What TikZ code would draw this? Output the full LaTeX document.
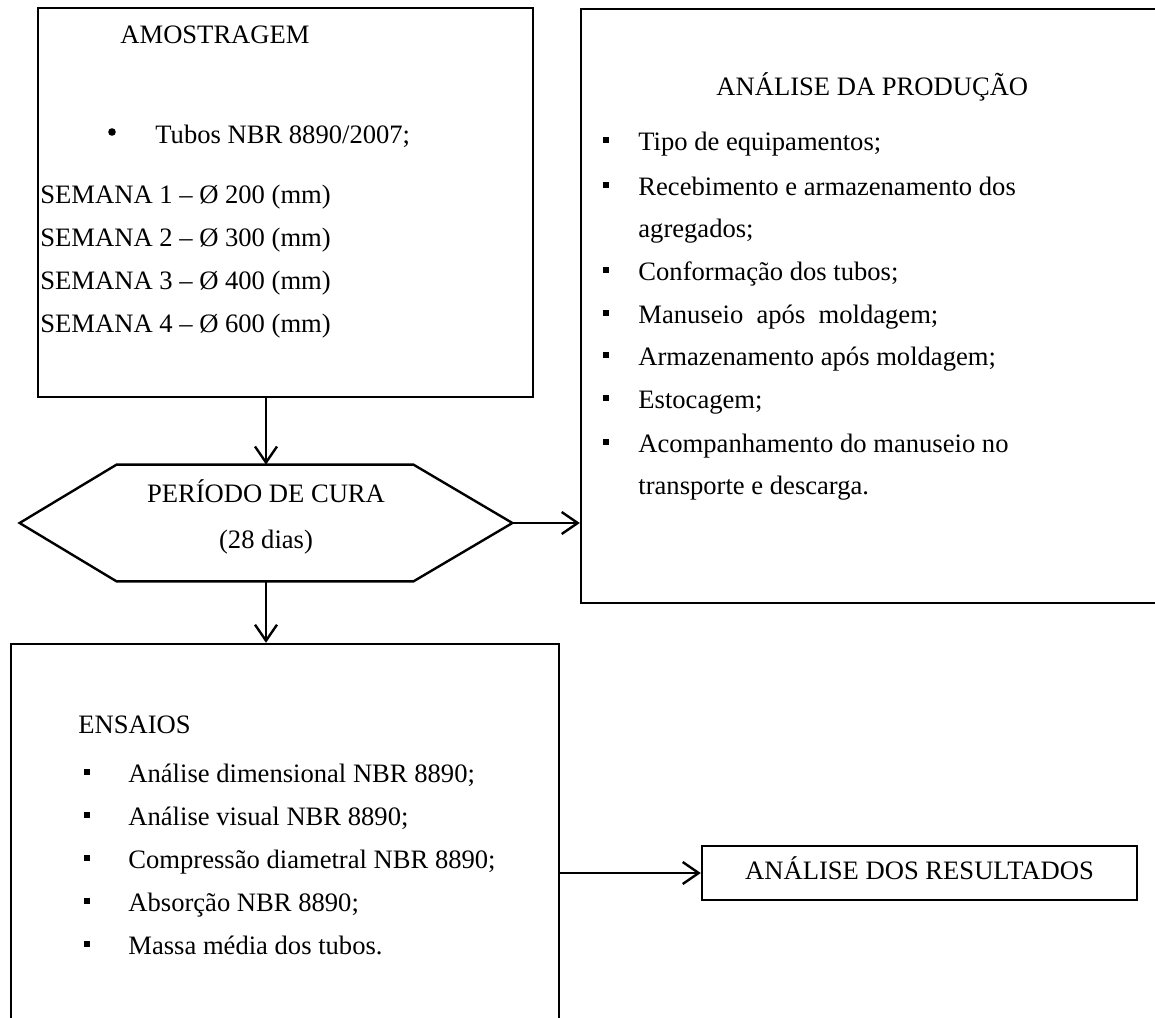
\documentclass[tikz,border=0pt]{standalone}
\usepackage{fontspec}
\setmainfont{Liberation Serif}
\usetikzlibrary{arrows.meta}
\begin{document}
\begin{tikzpicture}[x=0.5pt,y=-0.5pt,
  caixa/.style={draw, line width=1.2pt, inner sep=0pt},
  linha/.style={line width=1.2pt, line join=miter},
  seta/.style={line width=1.2pt, -{Straight Barb[length=8pt,width=11pt]}},
  texto/.style={anchor=base west, inner sep=0pt, font=\fontsize{13.3}{16}\selectfont},
  marca/.style={fill, inner sep=0pt, minimum size=3.4pt},
]
\useasboundingbox (0,0) rectangle (1155,1017);
\clip (0,0) rectangle (1155,1017);
% Caixas
\node[caixa, minimum width=247.5pt, minimum height=194.5pt] (amostra) at (285.5,202.5) {};
\node[caixa, minimum width=294.5pt, minimum height=297pt] (producao) at (875.5,306) {};
\node[inner sep=0pt, minimum width=246pt, minimum height=58pt] (cura) at (266,523) {};
\node[caixa, minimum width=274pt, minimum height=198pt] (ensaios) at (285,842) {};
\node[caixa, minimum width=217.5pt, minimum height=27pt] (resultados) at (919.5,873) {};
% Hexagono
\draw[linha] (cura.west) -- ([xshift=48.5pt]cura.north west) -- ([xshift=-49.5pt]cura.north east)
  -- (cura.east) -- ([xshift=-49.5pt]cura.south east) -- ([xshift=48.5pt]cura.south west) -- cycle;
% Amostragem
\node[texto] (amostra-tit) at (120,43) {AMOSTRAGEM};
\node[circle, fill, inner sep=0pt, minimum size=3.8pt] (amostra-pt) at (112,132) {};
\node[texto] (amostra-tubos) at (155,143) {Tubos NBR 8890/2007;};
\foreach \y/\s/\d [count=\i] in {203/1/200,246/2/300,289/3/400,332/4/600}
  \node[texto] (semana-\i) at (40,\y) {SEMANA \s\ – Ø \d\ (mm)};
% Analise da producao
\node[texto] (prod-tit) at (716,95) {ANÁLISE DA PRODUÇÃO};
\foreach \y/\t [count=\i] in {150/{Tipo de equipamentos;},195/{Recebimento e armazenamento dos},
    237/{agregados;},280/{Conformação dos tubos;},323/{Manuseio\ \ após\ \ moldagem;},
    365/{Armazenamento após moldagem;},408/{Estocagem;},452/{Acompanhamento do manuseio no},
    494/{transporte e descarga.}}
  \node[texto] (prod-\i) at (638,\y) {\t};
\foreach \y in {150,195,280,323,365,408,452}
  \node[marca] (pq-\y) at (606,\y-10) {};
% Periodo de cura
\node[texto, anchor=base] (cura-tit) at (266,502) {PERÍODO DE CURA};
\node[texto, anchor=base] (cura-dias) at (266,548) {(28 dias)};
% Ensaios
\node[texto] (ens-tit) at (78,733) {ENSAIOS};
\foreach \y/\t [count=\i] in {782/{Análise dimensional NBR 8890;},825/{Análise visual NBR 8890;},
    868/{Compressão diametral NBR 8890;},911/{Absorção NBR 8890;},954/{Massa média dos tubos.}} {
  \node[marca] (eq-\i) at (87,\y-10) {};
  \node[texto] (ens-\i) at (128,\y) {\t};
}
\node[texto, anchor=base] (res-tit) at (919.5,879) {ANÁLISE DOS RESULTADOS};
% Setas
\draw[seta] (cura.north |- amostra.south) -- (cura.north);
\draw[seta] (cura.east) -- (cura.east -| producao.west);
\draw[seta] (cura.south) -- (cura.south |- ensaios.north);
\draw[seta] (ensaios.east |- resultados.west) -- (resultados.west);
\end{tikzpicture}
\end{document}
